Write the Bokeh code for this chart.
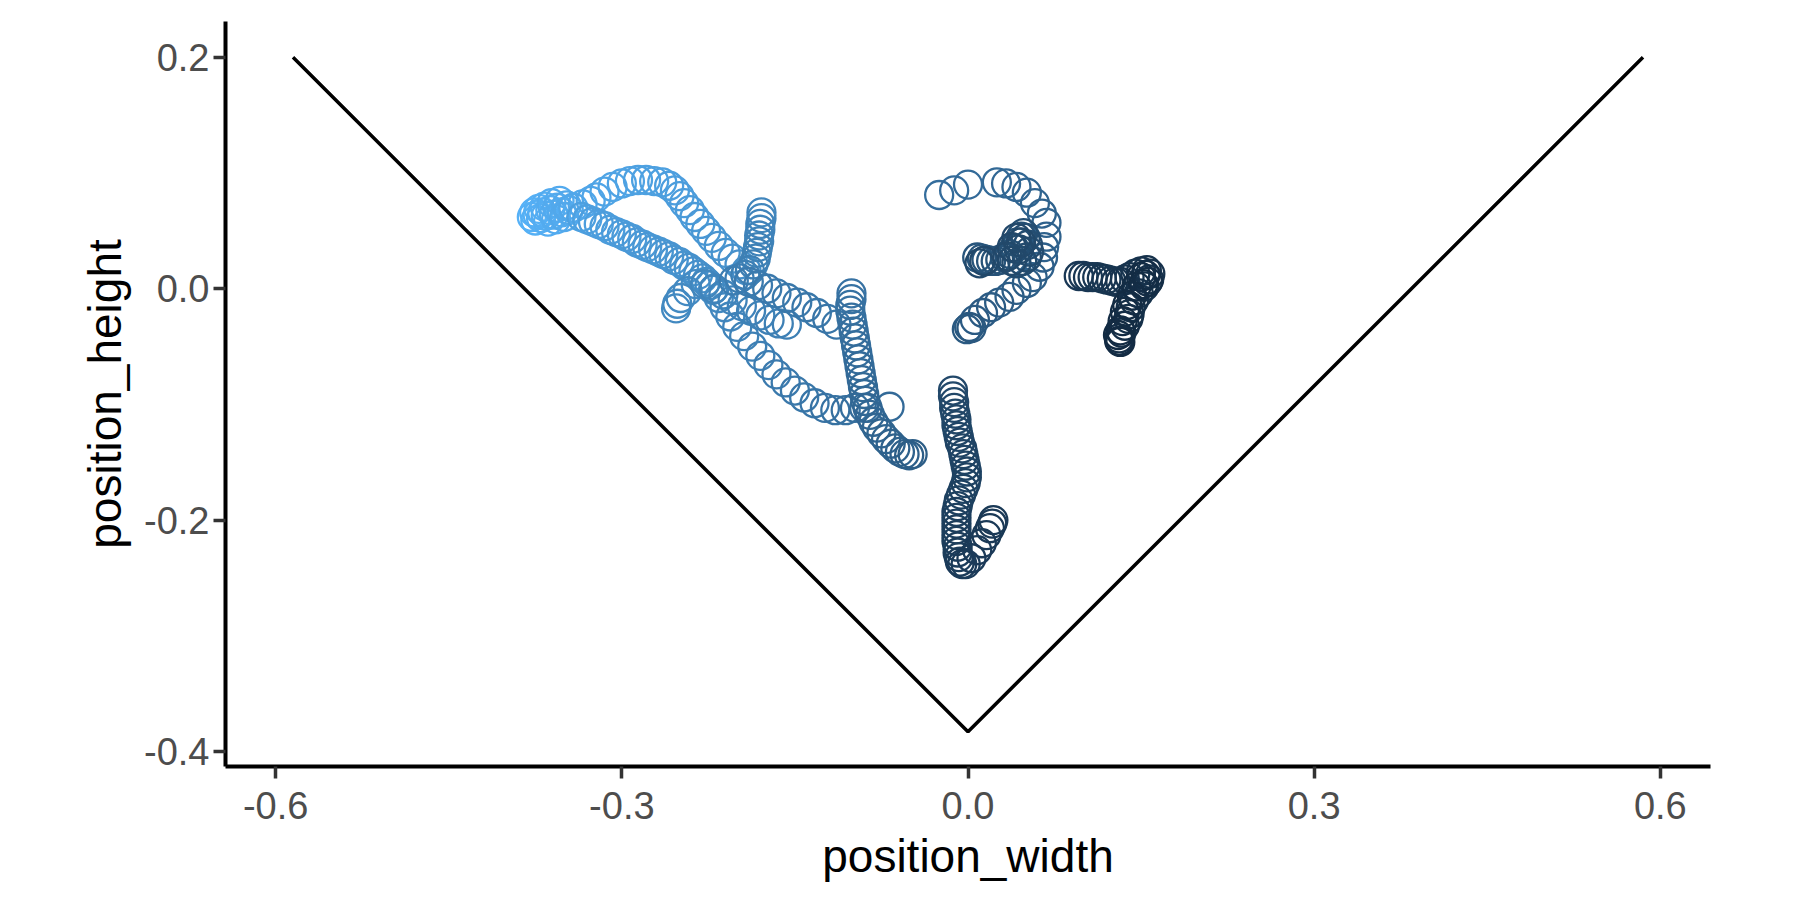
import numpy as np
from bokeh.plotting import figure
from bokeh.models import ColumnDataSource, Range1d, FixedTicker, PrintfTickFormatter, LinearColorMapper
from bokeh.embed import file_html
from bokeh.resources import INLINE

# ---------------- data ----------------
# V-shaped boundary
v_x = [-0.585, 0.0, 0.585]
v_y = [0.2, -0.383, 0.2]

x_ticks = [-0.6, -0.3, 0.0, 0.3, 0.6]
y_ticks = [-0.4, -0.2, 0.0, 0.2]

# track A: lightest cluster
a_x = [-0.378,-0.376,-0.375,-0.373,-0.372,-0.370,-0.369,-0.367,-0.366,-0.364,-0.362,-0.361,-0.359,-0.357,-0.356,-0.354,-0.352,-0.350,-0.348,-0.346]
a_y = [0.062,0.066,0.059,0.064,0.069,0.061,0.066,0.071,0.063,0.058,0.068,0.074,0.064,0.060,0.070,0.076,0.066,0.062,0.072,0.068]
a_s = [0,0,1,1,1,2,2,2,3,3,3,4,4,4,5,5,5,6,6,6]

# track B: upper arc
b_x = [-0.342,-0.334,-0.327,-0.322,-0.315,-0.308,-0.300,-0.293,-0.286,-0.279,-0.272,-0.265,-0.259,-0.254,-0.250,-0.246,-0.241,-0.237,-0.232,-0.227,-0.222,-0.216,-0.210,-0.204,-0.198,-0.192]
b_y = [0.070,0.073,0.076,0.079,0.084,0.088,0.091,0.093,0.094,0.094,0.093,0.092,0.089,0.085,0.080,0.074,0.068,0.062,0.056,0.050,0.044,0.037,0.031,0.026,0.021,0.016]
b_s = [7,7,8,8,9,9,10,10,11,11,12,12,13,13,14,14,15,16,17,18,19,20,21,22,23,24]

# track C: lower diagonal band
c_x = [-0.335,-0.330,-0.325,-0.320,-0.315,-0.310,-0.305,-0.300,-0.296,-0.291,-0.287,-0.282,-0.278,-0.273,-0.268,-0.264,-0.259,-0.255,-0.250,-0.246,-0.242,-0.238,-0.234,-0.230,-0.227,-0.224,-0.221,
       -0.216,-0.211,-0.206,-0.200,-0.194,-0.187,-0.180,-0.173,-0.166,-0.158,-0.150,-0.142,-0.133,-0.124,-0.115,-0.106,-0.098,-0.090,-0.068]
c_y = [0.062,0.060,0.058,0.056,0.054,0.051,0.049,0.047,0.045,0.043,0.040,0.038,0.036,0.034,0.032,0.030,0.028,0.025,0.023,0.020,0.018,0.015,0.012,0.009,0.006,0.003,-0.001,
       -0.008,-0.016,-0.024,-0.033,-0.041,-0.050,-0.058,-0.066,-0.074,-0.081,-0.088,-0.094,-0.099,-0.103,-0.105,-0.105,-0.103,-0.103,-0.102]
c_s = [12,12,13,13,14,14,15,15,16,16,17,17,18,18,19,19,20,20,21,21,22,22,23,24,25,26,27,
       28,29,30,32,33,34,35,36,38,39,40,41,42,44,45,46,47,48,50]

# track D: hook
d_x = [-0.236,-0.243,-0.249,-0.252,-0.253]
d_y = [0.004,-0.002,-0.008,-0.013,-0.017]
d_s = [26,27,27,28,28]

# track E: middle band
e_x = [-0.228,-0.220,-0.212,-0.204,-0.196,-0.188,-0.180,-0.172,-0.164,-0.157]
e_y = [0.004,0.000,-0.005,-0.010,-0.015,-0.019,-0.023,-0.027,-0.030,-0.031]
e_s = [30,31,31,32,32,33,33,34,34,35]

# track F: tall column near -0.18
f_x = [-0.179,-0.179,-0.180,-0.180,-0.181,-0.181,-0.182,-0.183,-0.184,-0.186,-0.189,-0.193,-0.198,-0.203]
f_y = [0.066,0.061,0.056,0.051,0.046,0.041,0.036,0.031,0.026,0.021,0.016,0.012,0.009,0.007]
f_s = [30,30,31,31,32,32,33,33,34,34,35,35,36,36]

# track G: upper-right band
g_x = [-0.190,-0.182,-0.174,-0.166,-0.157,-0.148,-0.140,-0.131,-0.122,-0.114]
g_y = [0.006,0.003,0.000,-0.004,-0.008,-0.012,-0.016,-0.021,-0.026,-0.031]
g_s = [38,38,39,39,40,40,41,41,42,42]

# track H: column near -0.1 and tail
h_x = [-0.101,-0.101,-0.102,-0.102,-0.101,-0.100,-0.099,-0.098,-0.097,-0.096,-0.095,-0.094,-0.093,-0.092,-0.091,-0.090,-0.089,-0.087,-0.085,-0.082,-0.079,-0.075,-0.071,-0.067,-0.063,-0.059,-0.055,-0.051,-0.048]
h_y = [-0.004,-0.009,-0.014,-0.019,-0.025,-0.031,-0.037,-0.043,-0.049,-0.055,-0.061,-0.067,-0.073,-0.079,-0.085,-0.091,-0.097,-0.103,-0.109,-0.115,-0.120,-0.125,-0.130,-0.134,-0.138,-0.141,-0.143,-0.144,-0.143]
h_s = [44,44,45,45,46,46,47,47,48,48,49,49,50,50,51,51,52,52,53,53,54,55,55,56,57,57,58,59,60]

# track I: "?" curl
i_x = [-0.025,-0.012,0.000,0.025,0.033,0.042,0.051,0.058,0.064,0.068,0.068,0.066,0.065,0.062,0.056,0.051,0.042,0.036,0.027,0.020,0.013,0.006,0.001,-0.001,0.003]
i_y = [0.081,0.085,0.090,0.092,0.091,0.088,0.083,0.074,0.065,0.057,0.045,0.036,0.027,0.019,0.010,0.005,-0.001,-0.007,-0.012,-0.016,-0.021,-0.027,-0.033,-0.035,-0.034]
i_s = [48,49,50,51,52,53,54,55,56,56,57,57,58,58,59,59,60,60,61,61,62,62,63,63,64]

# track J: dark heart cluster
j_x = [0.008,0.012,0.016,0.020,0.024,0.028,0.032,0.036,0.040,0.043,0.046,0.048,0.050,0.052,0.053,0.051,0.047,0.042,0.038,0.034,0.044,0.046,0.042,0.038,0.014,0.010]
j_y = [0.027,0.026,0.025,0.024,0.024,0.025,0.027,0.030,0.035,0.040,0.045,0.048,0.044,0.038,0.032,0.027,0.024,0.022,0.024,0.028,0.034,0.040,0.044,0.036,0.024,0.022]
j_s = [66,66,67,67,68,68,69,69,70,70,71,71,72,72,73,73,74,74,75,75,75,76,76,76,76,76]

# track K: bottom column and branch
k_x = [-0.013,-0.013,-0.012,-0.012,-0.011,-0.010,-0.010,-0.009,-0.008,-0.007,-0.005,-0.004,-0.003,-0.002,-0.001,-0.001,-0.002,-0.004,-0.006,-0.008,-0.009,-0.010,-0.010,-0.010,-0.010,-0.010,-0.010,-0.009,-0.009,-0.008,-0.007,-0.005,-0.002,0.003,0.008,0.012,0.016,0.019,0.021,0.022]
k_y = [-0.088,-0.093,-0.098,-0.103,-0.108,-0.113,-0.118,-0.123,-0.128,-0.133,-0.138,-0.143,-0.148,-0.153,-0.158,-0.163,-0.168,-0.173,-0.178,-0.183,-0.188,-0.193,-0.198,-0.203,-0.208,-0.213,-0.218,-0.223,-0.228,-0.232,-0.236,-0.238,-0.238,-0.233,-0.226,-0.220,-0.213,-0.207,-0.203,-0.200]
k_s = [76,76,76,77,77,77,78,78,78,79,79,79,80,80,80,81,81,81,82,82,82,83,83,83,84,84,84,85,85,85,86,86,86,87,87,87,88,88,88,88]

# track L: darkest right cluster
l_x = [0.096,0.100,0.104,0.108,0.112,0.116,0.120,0.124,0.128,0.132,0.136,0.140,0.145,0.150,0.155,0.158,0.157,0.153,0.148,0.144,0.141,0.140,0.139,0.136,0.133,0.131,0.131,0.150,0.154,0.156,0.152,0.146,0.142,0.138,0.136,0.134,0.132,0.130,0.132]
l_y = [0.011,0.011,0.010,0.010,0.010,0.009,0.008,0.007,0.006,0.006,0.008,0.010,0.013,0.015,0.016,0.013,0.008,0.002,-0.004,-0.010,-0.016,-0.022,-0.026,-0.032,-0.038,-0.043,-0.045,0.010,0.012,0.006,0.004,0.002,-0.006,-0.014,-0.020,-0.028,-0.036,-0.040,-0.046]
l_s = [89,89,90,90,90,91,91,91,92,92,92,93,93,93,94,94,94,95,95,95,96,96,96,97,97,97,98,98,98,98,99,99,99,99,99,100,100,100,100]

tracks = [(a_x, a_y, a_s), (b_x, b_y, b_s), (c_x, c_y, c_s), (d_x, d_y, d_s),
          (e_x, e_y, e_s), (f_x, f_y, f_s), (g_x, g_y, g_s), (h_x, h_y, h_s),
          (i_x, i_y, i_s), (j_x, j_y, j_s), (k_x, k_y, k_s), (l_x, l_y, l_s)]

xs, ys, ss = [], [], []
for tx, ty, ts in tracks:
    xs += tx; ys += ty; ss += ts

# ---------------- palette (Lab interpolation, like ggplot) ----------------
LIGHT = "#56B1F7"
DARK = "#132B43"
_M = np.array([[0.4124564, 0.3575761, 0.1804375],
               [0.2126729, 0.7151522, 0.0721750],
               [0.0193339, 0.1191920, 0.9503041]])
_Minv = np.linalg.inv(_M)
_wp = _M @ np.ones(3)
_d = 6 / 29

def _f(t):
    return np.where(t > _d ** 3, np.cbrt(t), t / (3 * _d * _d) + 4 / 29)

def _finv(t):
    return np.where(t > _d, t ** 3, 3 * _d * _d * (t - 4 / 29))

def to_lab(h):
    rgb = np.array([int(h[k:k + 2], 16) for k in (1, 3, 5)]) / 255.0
    lin = np.where(rgb <= 0.04045, rgb / 12.92, ((rgb + 0.055) / 1.055) ** 2.4)
    fx, fy, fz = _f(_M @ lin / _wp)
    return np.array([116 * fy - 16, 500 * (fx - fy), 200 * (fy - fz)])

def from_lab(lab):
    L, a, b = lab
    fy = (L + 16) / 116
    xyz = _wp * _finv(np.array([fy + a / 500, fy, fy - b / 200]))
    lin = np.clip(_Minv @ xyz, 0, 1)
    rgb = np.where(lin <= 0.0031308, 12.92 * lin, 1.055 * lin ** (1 / 2.4) - 0.055)
    r, g, bb = (np.clip(np.round(rgb * 255), 0, 255)).astype(int)
    return "#%02x%02x%02x" % (r, g, bb)

lab_lo, lab_hi = to_lab(LIGHT), to_lab(DARK)
palette = [from_lab(lab_lo + (lab_hi - lab_lo) * k / 255) for k in range(256)]
mapper = LinearColorMapper(palette=palette, low=0, high=100)

# ---------------- figure ----------------
p = figure(width=1784, height=884,
           x_range=Range1d(-0.6435, 0.6435), y_range=Range1d(-0.413, 0.231),
           output_backend="svg", toolbar_location=None,
           min_border_left=225, min_border_right=74,
           min_border_top=21, min_border_bottom=117)
p.xgrid.visible = False
p.ygrid.visible = False
p.outline_line_color = None
p.background_fill_color = "white"
p.border_fill_color = "white"

src = ColumnDataSource(dict(x=xs, y=ys, shade=ss))
p.scatter("x", "y", source=src, marker="circle", size=28, fill_color=None,
          line_color={"field": "shade", "transform": mapper}, line_width=2.3)

p.line(v_x, v_y, line_color="black", line_width=3.5)

p.xaxis.axis_label = "position_width"
p.yaxis.axis_label = "position_height"
p.xaxis.ticker = FixedTicker(ticks=x_ticks)
p.yaxis.ticker = FixedTicker(ticks=y_ticks)
for ax in (p.xaxis[0], p.yaxis[0]):
    ax.formatter = PrintfTickFormatter(format="%.1f")
    ax.axis_line_color = "black"
    ax.axis_line_width = 4
    ax.major_tick_line_color = "#333333"
    ax.major_tick_line_width = 3.5
    ax.major_tick_out = 12
    ax.major_tick_in = 0
    ax.minor_tick_line_color = None
    ax.major_label_text_font = "Liberation Sans"
    ax.major_label_text_font_size = "38px"
    ax.major_label_text_color = "#4D4D4D"
    ax.axis_label_text_font = "Liberation Sans"
    ax.axis_label_text_font_size = "46px"
    ax.axis_label_text_font_style = "normal"
    ax.axis_label_text_color = "black"
p.yaxis.major_label_standoff = 4
p.xaxis.major_label_standoff = 13
p.xaxis.axis_label_standoff = 8
p.yaxis.axis_label_standoff = 10

open("out.html", "w").write(file_html(p, INLINE))
